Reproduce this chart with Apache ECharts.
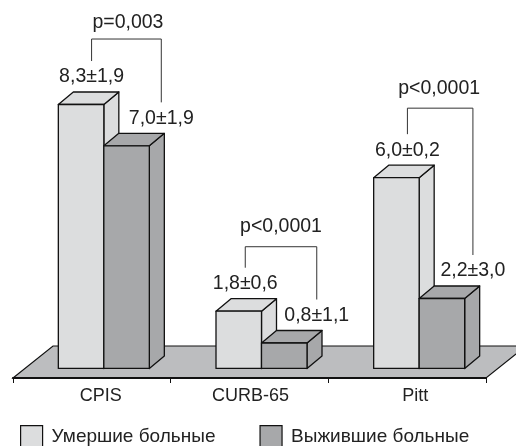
<!DOCTYPE html>
<html><head><meta charset="utf-8">
<style>html,body{margin:0;padding:0;background:#fff;overflow:hidden}#c{width:516px;height:446px}</style>
<script src="https://cdn.jsdelivr.net/npm/echarts@6/dist/echarts.min.js"></script>
</head><body><div id="c"></div>
<script>
const categories = ['CPIS', 'CURB-65', 'Pitt'];
const deceased = [8.3, 1.8, 6.0];
const survivors = [7.0, 0.8, 2.2];
const deceasedLabels = ['8,3±1,9', '1,8±0,6', '6,0±0,2'];
const survivorLabels = ['7,0±1,9', '0,8±1,1', '2,2±3,0'];
const pValues = ['p=0,003', 'p<0,0001', 'p<0,0001'];
const seriesNames = ['Умершие больные', 'Выжившие больные'];

const BAR_W = 45.5, DX = 15, DY = 12.5, GROUP_DX = 12;
const LABEL_DX_A = [10.5, 6.5, 11], LABEL_DX_B = [34.7, 32.5, 31];
const LABEL_DY = 9, LEG_GAP = 22;
const BRACKET_TOP = [44, 43, 48], P_DY = [9.5, 13, 13];
const NUM_FONT = '19.5px "Liberation Sans"';
const BLACK = '#111';

function face(points, fill) {
  return { type: 'polygon', shape: { points }, style: { fill, stroke: BLACK, lineWidth: 1.3, lineJoin: 'round' } };
}
function bar3d(sign, fill, labels, labelDx) {
  return function (params, api) {
    const i = api.value(0);
    const top = api.coord([i, api.value(1)]);
    const base = api.coord([i, 0]);
    const cx = top[0] + GROUP_DX;
    const x0 = sign < 0 ? cx - BAR_W : cx, x1 = x0 + BAR_W;
    const yT = top[1], yB = base[1];
    return {
      type: 'group',
      children: [
        face([[x1, yT], [x1 + DX, yT - DY], [x1 + DX, yB - DY], [x1, yB]], fill),
        face([[x0, yT], [x0 + DX, yT - DY], [x1 + DX, yT - DY], [x1, yT]], fill),
        face([[x0, yT], [x1, yT], [x1, yB], [x0, yB]], fill),
        { type: 'text', z2: 50, style: { text: labels[i], x: (x0 + x1) / 2 + labelDx[i], y: yT - DY - LABEL_DY - 6, align: 'center', verticalAlign: 'middle', font: NUM_FONT, fill: '#222' } }
      ]
    };
  };
}
function renderFloor(params, api) {
  const g = params.coordSys;
  const yB = g.y + g.height, xL = g.x, xR = g.x + g.width, h = 32, s = 40;
  return {
    type: 'polygon', silent: true,
    shape: { points: [[xL, yB], [xL + s, yB - h], [xR + s, yB - h], [xR, yB]] },
    style: { fill: '#bcbdbf', stroke: BLACK, lineWidth: 1.2 }
  };
}
function renderBracket(params, api) {
  const i = api.value(0);
  const a = api.coord([i, deceased[i]]), aB = api.coord([i, survivors[i]]);
  const c = a[0] + GROUP_DX;
  const xL = c - BAR_W / 2 + LABEL_DX_A[i], xR = c + BAR_W / 2 + LABEL_DX_B[i];
  const baseA = a[1] - DY - LABEL_DY, baseB = aB[1] - DY - LABEL_DY;
  const yTop = baseA - BRACKET_TOP[i];
  return {
    type: 'group',
    children: [
      { type: 'polyline', shape: { points: [[xL, baseA - LEG_GAP], [xL, yTop], [xR, yTop], [xR, baseB - LEG_GAP]] }, style: { fill: null, stroke: '#333', lineWidth: 1 } },
      { type: 'text', style: { text: pValues[i], x: (xL + xR) / 2 + [1.5, 0, -1][i], y: yTop - P_DY[i] - 6.8, align: 'center', verticalAlign: 'middle', font: NUM_FONT, fill: '#222' } }
    ]
  };
}

const chart = echarts.init(document.getElementById('c'), null, { renderer: 'canvas' });
const idx = categories.map((_, i) => i);
chart.setOption({
  animation: false,
  backgroundColor: '#fff',
  grid: { left: 13, right: 30, top: 2.76, bottom: 68 },
  legend: {
    left: 20, top: 425, itemWidth: 22, itemHeight: 22, itemGap: 44, padding: 0,
    selectedMode: false,
    data: seriesNames.map((name, k) => ({ name, icon: 'rect', itemStyle: { color: k ? '#a7a8aa' : '#dcddde', borderColor: BLACK, borderWidth: 1.2 } })),
    textStyle: { fontFamily: 'Liberation Sans', fontSize: 19, color: '#222', padding: [0, 0, 0, 4] }
  },
  xAxis: {
    type: 'category',
    data: [
      { value: categories[0], textStyle: { padding: [0, 0, 0, 18] } },
      { value: categories[1], textStyle: { padding: [0, 0, 0, 2] } },
      { value: categories[2], textStyle: { padding: [0, 0, 0, 16] } }
    ],
    axisLine: { onZero: false, lineStyle: { color: BLACK, width: 2 } },
    axisTick: { show: true, alignWithLabel: false, inside: false, length: 5, lineStyle: { color: BLACK, width: 1 } },
    axisLabel: { fontFamily: 'Liberation Sans', fontSize: 18, color: '#222', margin: 9, interval: 0 },
    z: 5
  },
  yAxis: { type: 'value', min: -0.3, max: 11.5, show: false, splitLine: { show: false } },
  series: [
    { type: 'custom', name: 'floor', silent: true, clip: false, z: 1, data: [[0, 0]], renderItem: renderFloor, encode: { x: 0, y: 1 } },
    { type: 'custom', name: seriesNames[0], clip: false, z: 2, itemStyle: { color: '#dcddde' },
      data: idx.map(i => [i, deceased[i]]), renderItem: bar3d(-1, '#dcddde', deceasedLabels, LABEL_DX_A), encode: { x: 0, y: 1 } },
    { type: 'custom', name: seriesNames[1], clip: false, z: 3, itemStyle: { color: '#a7a8aa' },
      data: idx.map(i => [i, survivors[i]]), renderItem: bar3d(1, '#a7a8aa', survivorLabels, LABEL_DX_B), encode: { x: 0, y: 1 } },
    { type: 'custom', name: 'brackets', silent: true, clip: false, z: 4,
      data: idx.map(i => [i, deceased[i]]), renderItem: renderBracket, encode: { x: 0, y: 1 } }
  ]
});
</script></body></html>
